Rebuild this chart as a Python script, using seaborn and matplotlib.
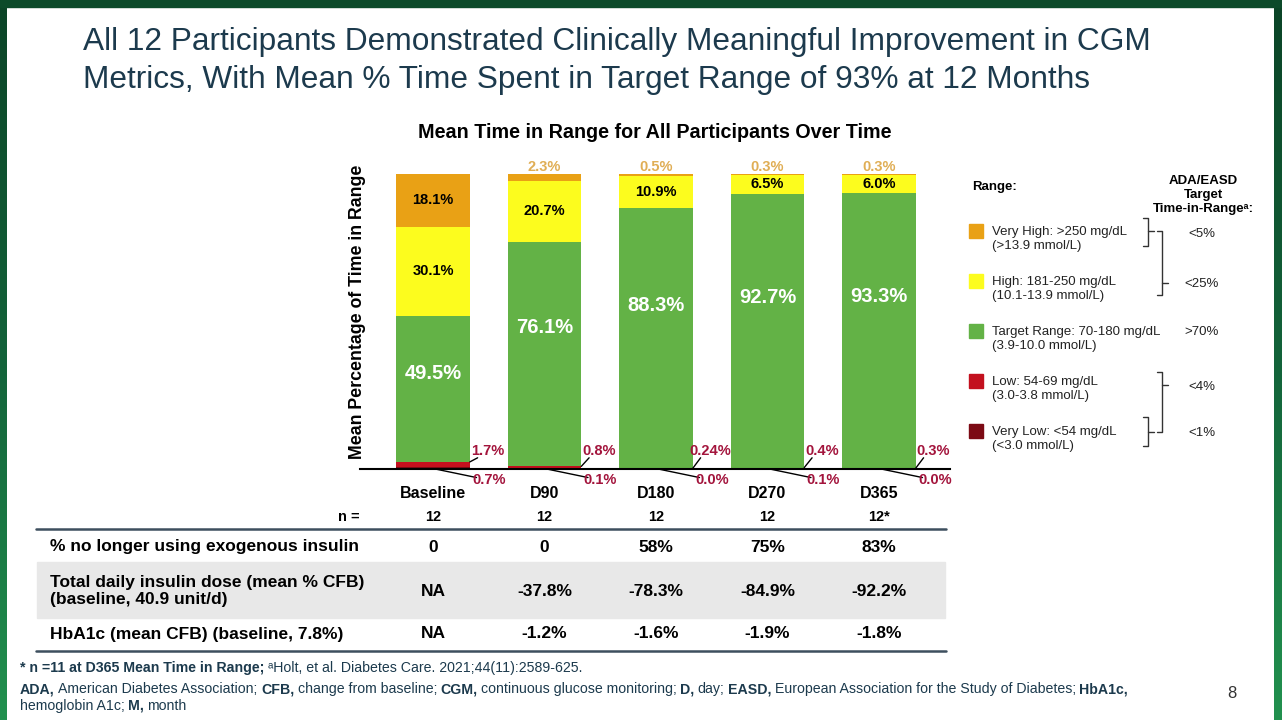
import matplotlib
matplotlib.use("Agg")
import matplotlib.pyplot as plt
import matplotlib.transforms as mtransforms
from matplotlib.colors import LinearSegmentedColormap
from matplotlib.patches import Rectangle
import numpy as np
import pandas as pd
import seaborn as sns

# ---- data ----
visits = ["Baseline", "D90", "D180", "D270", "D365"]
very_low = [0.7, 0.1, 0.0, 0.1, 0.0]
low = [1.7, 0.8, 0.24, 0.4, 0.3]
target = [49.5, 76.1, 88.3, 92.7, 93.3]
high = [30.1, 20.7, 10.9, 6.5, 6.0]
very_high = [18.1, 2.3, 0.5, 0.3, 0.3]

n_values = ["12", "12", "12", "12", "12*"]
off_insulin = ["0", "0", "58%", "75%", "83%"]
insulin_dose = ["NA", "-37.8%", "-78.3%", "-84.9%", "-92.2%"]
hba1c = ["NA", "-1.2%", "-1.6%", "-1.9%", "-1.8%"]
table_rows = [
    ("% no longer using exogenous insulin", off_insulin),
    ("Total daily insulin dose (mean % CFB)\n(baseline, 40.9 unit/d)", insulin_dose),
    ("HbA1c (mean CFB) (baseline, 7.8%)", hba1c),
]

legend_names = [
    "Very High: >250 mg/dL\n(>13.9 mmol/L)",
    "High: 181-250 mg/dL\n(10.1-13.9 mmol/L)",
    "Target Range: 70-180 mg/dL\n(3.9-10.0 mmol/L)",
    "Low: 54-69 mg/dL\n(3.0-3.8 mmol/L)",
    "Very Low: <54 mg/dL\n(<3.0 mmol/L)",
]
legend_targets = ["<5%", "<25%", ">70%", "<4%", "<1%"]

# colours
c_vhigh = "#E9A115"
c_high = "#FCFC1E"
c_target = "#63B246"
c_low = "#C3101E"
c_vlow = "#7C0A14"
c_lowlbl = "#A3143C"
c_toplbl = "#E0AE55"
navy = "#1C3A4D"

FAM = ["Liberation Sans", "DejaVu Sans"]

sns.set_style("white")
plt.rcParams["font.family"] = FAM
plt.rcParams["text.color"] = "black"

W, H = 1282, 720
fig = plt.figure(figsize=(W / 100, H / 100), dpi=100)
fig.patch.set_facecolor("white")

# overlay axes in pixel coordinates (y down) for the slide furniture
ov = fig.add_axes([0, 0, 1, 1])
ov.set_xlim(0, W)
ov.set_ylim(H, 0)
ov.axis("off")

# green slide frame
grad = LinearSegmentedColormap.from_list("frame", ["#0B4427", "#13633A", "#22914F"])
g = np.linspace(0, 1, 256).reshape(-1, 1)
ov.imshow(g, cmap=grad, extent=[0, 7, H, 0], aspect="auto", zorder=5)
ov.imshow(g, cmap=grad, extent=[1274, W, H, 0], aspect="auto", zorder=5)
ov.add_patch(Rectangle((0, 0), W, 7, color="#0C4A2A", zorder=6))
ov.set_xlim(0, W)
ov.set_ylim(H, 0)

# slide title
ov.text(83, 42, "All 12 Participants Demonstrated Clinically Meaningful Improvement in CGM",
        fontsize=22.8, color=navy, va="center", ha="left")
ov.text(83, 80, "Metrics, With Mean % Time Spent in Target Range of 93% at 12 Months",
        fontsize=22.8, color=navy, va="center", ha="left")

# ---- stacked bar chart ----
ax = fig.add_axes([360 / W, 1 - 469 / H, 590 / W, 295 / H])
ax.patch.set_alpha(0)

df = pd.DataFrame({"visit": visits, "very_low": very_low, "low": low,
                   "target": target, "high": high, "very_high": very_high})
df["c_vlow"] = df["very_low"]
df["c_low"] = df["c_vlow"] + df["low"]
df["c_target"] = df["c_low"] + df["target"]
df["c_high"] = df["c_target"] + df["high"]
df["c_vhigh"] = df["c_high"] + df["very_high"]

for col, color in [("c_vhigh", c_vhigh), ("c_high", c_high), ("c_target", c_target),
                   ("c_low", c_low), ("c_vlow", c_vlow)]:
    sns.barplot(data=df, x="visit", y=col, order=visits, color=color, saturation=1,
                width=0.66, errorbar=None, edgecolor="none", linewidth=0, ax=ax)

ax.set_xlim(-0.655, 4.637)
ax.set_ylim(0, 100)
ax.set_xlabel("")
ax.set_ylabel("")
ax.set_yticks([])
for s in ["left", "right", "top"]:
    ax.spines[s].set_visible(False)
ax.spines["bottom"].set_linewidth(1.5)
ax.spines["bottom"].set_color("black")
ax.tick_params(axis="x", length=6, width=1.3, direction="out", color="black",
               labelcolor="black", pad=6)
for lbl in ax.get_xticklabels():
    lbl.set_fontsize(11.5)
    lbl.set_fontweight("bold")


def fmt(v):
    s = f"{v:.2f}".rstrip("0")
    return s + "0%" if s.endswith(".") else s + "%"


for i, row in df.iterrows():
    # very high
    if row["very_high"] >= 5:
        ax.text(i, row["c_high"] + row["very_high"] / 2, fmt(row["very_high"]), ha="center",
                va="center", fontsize=10.5, fontweight="bold", color="black")
    else:
        ax.text(i, 102.5, fmt(row["very_high"]), ha="center", va="center", fontsize=10.5,
                fontweight="bold", color=c_toplbl, clip_on=False)
    # high
    ax.text(i, row["c_target"] + row["high"] / 2, fmt(row["high"]), ha="center",
            va="center", fontsize=10.5, fontweight="bold", color="black")
    # target
    ax.text(i, row["c_target"] * 0.625, fmt(row["target"]), ha="center", va="center",
            fontsize=14.5, fontweight="bold", color="white")
    # low (above axis, to the right)
    ax.plot([i + 0.33, i + 0.40], [row["c_low"], 3.8], color="black", lw=1, clip_on=False)
    ax.text(i + 0.49, 6.1, fmt(row["low"]), ha="center", va="center", fontsize=10.5,
            fontweight="bold", color=c_lowlbl, clip_on=False)
    # very low (below axis)
    ax.plot([i + 0.02, i + 0.39], [0, -2.9], color="black", lw=1, clip_on=False)
    ax.text(i + 0.50, -3.7, fmt(row["very_low"]), ha="center", va="center", fontsize=10.5,
            fontweight="bold", color=c_lowlbl, clip_on=False)

ov.text(655, 132, "Mean Time in Range for All Participants Over Time", ha="center",
        va="center", fontsize=14.2, fontweight="bold", color="black")
ov.text(357, 312, "Mean Percentage of Time in Range", rotation=90, ha="center",
        va="center", fontsize=12.8, fontweight="bold", color="black")

# ---- legend with ADA/EASD targets ----
leg_colors = [c_vhigh, c_high, c_target, c_low, c_vlow]
leg_y = [231, 281, 331, 381, 431]
ov.text(972, 187, "Range:", fontsize=9.5, fontweight="bold", ha="left", va="center")
ov.text(1203, 195, "ADA/EASD\nTarget\nTime-in-Range\u1d43:", fontsize=9.5, fontweight="bold",
        ha="center", va="center", linespacing=1.25, family=FAM)
tgt_y = [234, 284, 332, 387, 433]
for name, col, y, tg, ty in zip(legend_names, leg_colors, leg_y, legend_targets, tgt_y):
    ov.add_patch(Rectangle((969, y - 7), 14, 14, color=col))
    ov.text(992, y + 8, name, fontsize=9.5, color="#222222", ha="left", va="center",
            linespacing=1.3)
    ov.text(1202, ty, tg, fontsize=9.5, color="#222222", ha="center", va="center")


def bracket(x, y0, y1, ytick, stub=5, tick=6):
    ov.plot([x - stub, x, x, x - stub], [y0, y0, y1, y1], color="#333333", lw=1)
    ov.plot([x, x + tick], [ytick, ytick], color="#333333", lw=1)


bracket(1148, 218, 246, 231)
bracket(1162, 231, 295, 283)
bracket(1162, 372, 432, 385)
bracket(1148, 417, 446, 432)

# ---- table under the chart ----
colx = mtransforms.blended_transform_factory(ax.transData, ov.transData)
ov.add_patch(Rectangle((37, 562), 908, 56, color="#E8E8E8", zorder=0))
ov.plot([36, 946], [529, 529], color="#3D4F5E", lw=1.8)
ov.plot([36, 946], [651, 651], color="#3D4F5E", lw=1.8)
ov.text(360, 517, "n =", fontsize=10.5, fontweight="bold", ha="right", va="center")
for i, nv in enumerate(n_values):
    ax.text(i, 517, nv, transform=colx, fontsize=10.5, fontweight="bold", ha="center",
            va="center", clip_on=False)
row_y = [547, 591, 634]
for (label, vals), y in zip(table_rows, row_y):
    ov.text(50, y, label, fontsize=12.5, fontweight="bold", ha="left", va="center",
            linespacing=1.15)
    for i, v in enumerate(vals):
        ax.text(i, y, v, transform=colx, fontsize=12.5, fontweight="bold", ha="center",
                va="center", clip_on=False)

# ---- footnotes (mixed bold / regular) ----
renderer = fig.canvas.get_renderer()


def text_w(s, size, weight):
    t = ov.text(0, 0, s, fontsize=size, fontweight=weight)
    w = t.get_window_extent(renderer=renderer).width
    t.remove()
    return w


def rich(x, y, parts, size=10.2, color=navy):
    gap = text_w("a a", size, "normal") - text_w("aa", size, "normal") - 0.5
    for s, bold in parts:
        t = ov.text(x, y, s, fontsize=size, fontweight="bold" if bold else "normal",
                    color=color, ha="left", va="center", family=FAM)
        x += t.get_window_extent(renderer=renderer).width + gap


rich(20, 668, [("* n =11 at D365 Mean Time in Range;", True),
               ("\u1d43Holt, et al. Diabetes Care. 2021;44(11):2589-625.", False)])
rich(20, 689, [("ADA,", True), ("American Diabetes Association;", False),
               ("CFB,", True), ("change from baseline;", False),
               ("CGM,", True), ("continuous glucose monitoring;", False),
               ("D,", True), ("day;", False),
               ("EASD,", True), ("European Association for the Study of Diabetes;", False),
               ("HbA1c,", True)])
rich(20, 706, [("hemoglobin A1c;", False), ("M,", True), ("month", False)])

ov.text(1232, 694, "8", fontsize=12, color="#333333", ha="center", va="center")

fig.savefig("out.png", dpi=100)
